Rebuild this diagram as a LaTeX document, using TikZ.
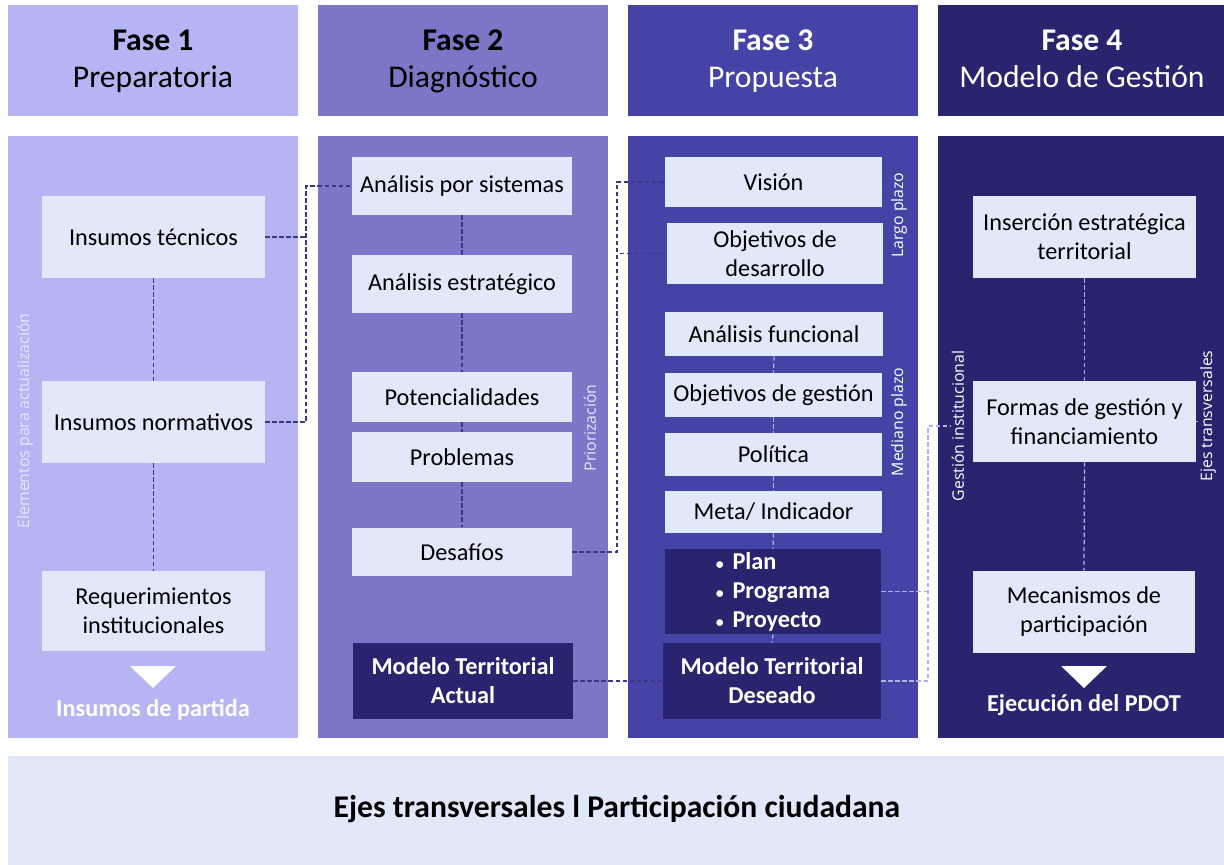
\documentclass[tikz,border=0pt]{standalone}
\usepackage{fontspec}
\setmainfont{Carlito}
\newfontfamily\labelfont{Open Sans}
\usepackage{tikz}

\definecolor{faseA}{RGB}{181,181,243}
\definecolor{faseB}{RGB}{123,118,198}
\definecolor{faseC}{RGB}{69,67,165}
\definecolor{faseD}{RGB}{41,36,110}
\definecolor{cardfill}{RGB}{225,232,250}
\definecolor{linkdark}{RGB}{58,55,135}
\definecolor{linklight}{RGB}{176,176,238}

\begin{document}
\begin{tikzpicture}
    [
        x=0.02cm, y=-0.02cm,
        card/.style={fill=cardfill, align=center, inner sep=0pt,
            font=\fontsize{13.8}{16.5}\selectfont},
        darkcard/.style={card, fill=faseD, text=white,
            font=\fontsize{13.8}{16.5}\selectfont\bfseries},
        headtxt/.style={align=center, font=\fontsize{18}{21}\selectfont},
        side/.style={rotate=90, inner sep=1pt,
            font=\labelfont\fontsize{9}{11}\selectfont},
        linkA/.style={linkdark, dash pattern=on 2.5pt off 1.5pt, line width=0.8pt},
        linkB/.style={linklight, dash pattern=on 2.5pt off 1.5pt, line width=0.7pt},
    ]
    \useasboundingbox (0, 0) rectangle (1224, 865);

    % columnas
    \foreach \x/\c in {8/faseA, 318/faseB, 628/faseC, 938/faseD} {
        \fill [\c] (\x, 5) rectangle (\x + 290, 116);
        \fill [\c] (\x, 136) rectangle (\x + 290, 738);
    }
    \fill [cardfill] (8, 756) rectangle (1224, 865);

    \node [headtxt] (h1) at (153, 61.5) {\textbf{Fase 1}\\Preparatoria};
    \node [headtxt] (h2) at (463, 61.5) {\textbf{Fase 2}\\Diagnóstico};
    \node [headtxt, text=white] (h3) at (773, 61.5) {\textbf{Fase 3}\\Propuesta};
    \node [headtxt, text=white] (h4) at (1082, 59) {\textbf{Fase 4}\\Modelo de Gestión};

    % fase 1
    \node [card, minimum width=4.46cm, minimum height=1.64cm] (tec) at (153.5, 237) {Insumos técnicos};
    \node [card, minimum width=4.46cm, minimum height=1.64cm] (norm) at (153.5, 422) {Insumos normativos};
    \node [card, minimum width=4.46cm, minimum height=1.6cm] (req) at (153.5, 611) {Requerimientos\\institucionales};
    \fill [white] (130, 666) -- (176, 666) -- (153, 688) -- cycle;
    \node [text=white, font=\fontsize{13.8}{16.5}\selectfont\bfseries] (partida) at (153, 710) {Insumos de partida};
    \node [side, text=cardfill] (elem) at (25, 421) {Elementos para actualización};

    % fase 2
    \node [card, minimum width=4.4cm, minimum height=1.16cm] (sist) at (462, 186) {Análisis por sistemas};
    \node [card, minimum width=4.4cm, minimum height=1.16cm] (estr) at (462, 284) {Análisis estratégico};
    \node [card, minimum width=4.4cm, minimum height=1.0cm] (pot) at (462, 397) {Potencialidades};
    \node [card, minimum width=4.4cm, minimum height=1.0cm] (prob) at (462, 457) {Problemas};
    \node [card, minimum width=4.4cm, minimum height=0.98cm] (desaf) at (462, 552) {Desafíos};
    \node [darkcard, minimum width=4.4cm, minimum height=1.54cm] (mta) at (463, 681) {Modelo Territorial\\Actual};
    \node [side, text=cardfill] (prior) at (590, 428) {Priorización};

    % fase 3
    \node [card, minimum width=4.34cm, minimum height=1.0cm] (vis) at (773.5, 182) {Visión};
    \node [card, minimum width=4.34cm, minimum height=1.22cm] (objd) at (775, 253.5) {Objetivos de\\desarrollo};
    \node [card, minimum width=4.36cm, minimum height=0.88cm] (func) at (774, 334) {Análisis funcional};
    \node [card, minimum width=4.34cm, minimum height=0.88cm] (objg) at (773.5, 395) {Objetivos de gestión};
    \node [card, minimum width=4.34cm, minimum height=0.86cm] (pol) at (773.5, 454.5) {Política};
    \node [card, minimum width=4.34cm, minimum height=0.84cm] (meta) at (773.5, 512) {Meta/ Indicador};
    \node [darkcard, align=left, minimum width=4.32cm, minimum height=1.7cm] (plan) at (773, 591.5)
        {{\small\textbullet}\hspace{5pt}Plan\\{\small\textbullet}\hspace{5pt}Programa\\{\small\textbullet}\hspace{5pt}Proyecto\hspace{6pt}};
    \node [darkcard, minimum width=4.36cm, minimum height=1.52cm] (mtd) at (772, 681) {Modelo Territorial\\Deseado};
    \node [side, text=white] (largo) at (899, 215) {Largo plazo};
    \node [side, text=white] (mediano) at (899, 422) {Mediano plazo};

    % fase 4
    \node [card, minimum width=4.46cm, minimum height=1.64cm] (ins) at (1084.5, 237) {Inserción estratégica\\territorial};
    \node [card, minimum width=4.46cm, minimum height=1.62cm] (formas) at (1084.5, 421.5) {Formas de gestión y\\financiamiento};
    \node [card, minimum width=4.44cm, minimum height=1.64cm] (mec) at (1084, 612) {Mecanismos de\\participación};
    \fill [white] (1061, 666) -- (1107, 666) -- (1084, 688) -- cycle;
    \node [text=white, font=\fontsize{13.8}{16.5}\selectfont\bfseries] (ejec) at (1084, 705) {Ejecución del PDOT};
    \node [side, text=white] (gest) at (958, 426) {Gestión institucional};
    \node [side, text=white] (ejes) at (1208, 416) {Ejes transversales};

    \node [font=\fontsize{18}{21}\selectfont\bfseries] (pie) at (617, 809) {Ejes transversales l Participación ciudadana};

    % conectores
    \foreach \a/\b in {tec/norm, norm/req, sist/estr, estr/pot, pot/prob, prob/desaf} {
        \draw [linkA] (\a.south) -- (\b.north);
    }
    \foreach \a/\b in {func/objg, objg/pol, pol/meta, meta/plan, plan/mtd, ins/formas, formas/mec} {
        \draw [linkB] (\a.south) -- (\b.north);
    }
    \coordinate (j1) at (306, 136);
    \coordinate (j2) at (617, 136);
    \coordinate (j3) at (928, 136);
    \draw [linkA] (tec.east) -- (tec.east -| j1);
    \draw [linkA] (norm.east) -- (norm.east -| j1) |- (sist.west);
    \draw [linkA] (objd.west) -- (objd.west -| j2);
    \draw [linkA] (desaf.east) -- (desaf.east -| j2) |- (vis.west);
    \draw [linkA] (mta.east) -- (mtd.west);
    \draw [linkB] (plan.east) -- (plan.east -| j3);
    \draw [linkB] (mtd.east) -- (mtd.east -| j3) |- (gest.north);
    \draw [linkB] (formas.east) -- (formas.east -| ejes.north);

\end{tikzpicture}
\end{document}
